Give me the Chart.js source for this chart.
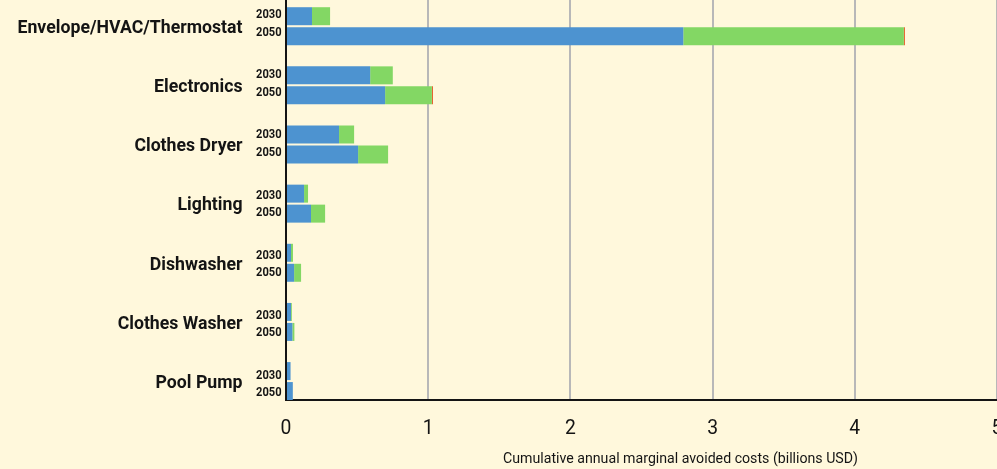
<!DOCTYPE html>
<html>
<head>
<meta charset="utf-8">
<script src="https://cdn.jsdelivr.net/npm/chart.js@4.4.1/dist/chart.umd.min.js"></script>
<style>
  html, body { margin: 0; padding: 0; background: #FFF8DC; }
  #wrap { width: 997px; height: 469px; }
</style>
</head>
<body>
<div id="wrap"><canvas id="c" width="997" height="469"></canvas></div>
<script>
const categories = ["Envelope/HVAC/Thermostat", "Electronics", "Clothes Dryer", "Lighting", "Dishwasher", "Clothes Washer", "Pool Pump"];
const years = ["2030", "2050"];
const blue2030  = [0.183, 0.592, 0.373, 0.127, 0.035, 0.035, 0.032];
const green2030 = [0.127, 0.159, 0.106, 0.028, 0.014, 0.006, 0];
const blue2050  = [2.794, 0.697, 0.507, 0.176, 0.057, 0.045, 0.048];
const green2050 = [1.551, 0.329, 0.211, 0.099, 0.049, 0.014, 0];
const red2050   = [0.007, 0.007, 0, 0, 0, 0, 0];
const xTicks = [0, 1, 2, 3, 4, 5];
const xTitle = "Cumulative annual marginal avoided costs (billions USD)";

const BLUE = "#4D93D0", GREEN = "#83D764", RED = "#E2521B", INK = "#141414";
const FONT = "Roboto, 'Liberation Sans', sans-serif";

function pts(arr) { return arr.map((v, i) => ({ x: v, y: i })); }

function drawScaled(ctx, text, x, y, align, sx) {
  ctx.save();
  ctx.translate(x, y);
  ctx.scale(sx, 1);
  ctx.textAlign = align;
  ctx.fillText(text, 0, 0);
  ctx.restore();
}

const labelPlugin = {
  id: "labels",
  afterDraw(chart) {
    const ctx = chart.ctx;
    const area = chart.chartArea;
    const ys = chart.scales.y, xs = chart.scales.x;
    ctx.save();
    ctx.fillStyle = INK;
    ctx.textBaseline = "alphabetic";

    // category labels
    ctx.font = "bold 19px " + FONT;
    const catScale = 225 / ctx.measureText(categories[0]).width;
    categories.forEach((c, i) => {
      drawScaled(ctx, c, area.left - 43.5, ys.getPixelForValue(i) + 6.8, "right", catScale);
    });

    // year labels
    ctx.font = "bold 12px " + FONT;
    const yrScale = 25.5 / ctx.measureText(years[0]).width;
    categories.forEach((c, i) => {
      const base = area.top + 18.3 + i * 60.07;
      drawScaled(ctx, years[0], area.left - 4.5, base, "right", yrScale);
      drawScaled(ctx, years[1], area.left - 4.5, base + 17.7, "right", yrScale);
    });

    // x tick labels
    ctx.font = "21px " + FONT;
    xTicks.forEach(v => {
      drawScaled(ctx, String(v), xs.getPixelForValue(v), area.bottom + 34, "center", 0.92);
    });

    // axis title
    ctx.font = "15px " + FONT;
    const tScale = 355 / ctx.measureText(xTitle).width;
    drawScaled(ctx, xTitle, 503, area.bottom + 63, "left", tScale);
    ctx.restore();
  }
};

new Chart(document.getElementById("c"), {
  type: "bar",
  data: {
    datasets: [
      { label: "2030 a", data: pts(blue2030), backgroundColor: BLUE, stack: "s2030" },
      { label: "2030 b", data: pts(green2030), backgroundColor: GREEN, stack: "s2030" },
      { label: "2050 a", data: pts(blue2050), backgroundColor: BLUE, stack: "s2050" },
      { label: "2050 b", data: pts(green2050), backgroundColor: GREEN, stack: "s2050" },
      { label: "2050 c", data: pts(red2050), backgroundColor: RED, stack: "s2050" }
    ]
  },
  options: {
    indexAxis: "y",
    responsive: false,
    animation: false,
    devicePixelRatio: 1,
    layout: { padding: 0 },
    categoryPercentage: 0.676,
    barPercentage: 0.9,
    borderWidth: 0,
    plugins: { legend: { display: false }, tooltip: { enabled: false }, title: { display: false } },
    scales: {
      x: {
        type: "linear",
        stacked: true,
        min: 0, max: 5,
        z: 1,
        afterBuildTicks: s => { s.ticks = xTicks.map(v => ({ value: v })); },
        ticks: { display: false },
        grid: { color: "#B8B8B8", lineWidth: 2, drawTicks: false },
        border: { color: INK, width: 2 },
        afterFit: s => { s.height = 69; s.paddingLeft = 0; s.paddingRight = 0; }
      },
      y: {
        type: "linear",
        reverse: true,
        offset: false,
        min: -0.443, max: 6.32,
        afterBuildTicks: s => { s.ticks = categories.map((c, i) => ({ value: i })); },
        ticks: { display: false },
        grid: { display: false, drawTicks: false },
        border: { color: INK, width: 2 },
        afterFit: s => { s.width = 286; s.paddingTop = 0; s.paddingBottom = 0; }
      }
    }
  },
  plugins: [labelPlugin]
});
</script>
</body>
</html>
